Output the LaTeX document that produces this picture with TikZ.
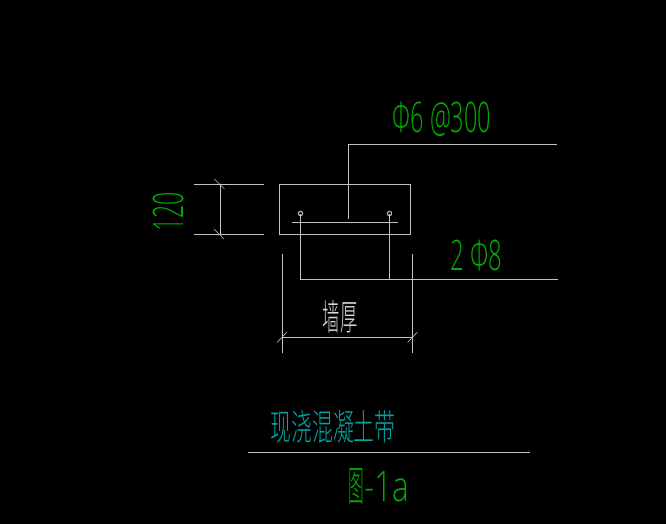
\documentclass[tikz,border=0pt]{standalone}
\usepackage{fontspec}
\setmainfont{Open Sans Light}
\newfontfamily\cjk{Noto Sans CJK SC Light}
\definecolor{cadgreen}{RGB}{0,175,0}
\definecolor{cadcyan}{RGB}{0,165,165}
\definecolor{cadline}{RGB}{195,195,195}
\tikzset{
	cadlabel/.style={inner sep=0pt, font=\fontsize{42}{42}\selectfont},
	cjklabel/.style={inner sep=0pt, font=\cjk\fontsize{36}{36}\selectfont},
	tick/.style={cadline, line width=0.6pt},
}
\begin{document}
\begin{tikzpicture}[x=1pt, y=-1pt, line width=1.1pt, cadline]
		\fill[black] (0, 0) rectangle (666, 524);
		\useasboundingbox (0, 0) rectangle (666, 524);

		% section outline and bars
		\draw (279.5, 184.5) rectangle (410.5, 234.5);
		\draw (292, 222.5) -- (398, 222.5);
		\draw (348.5, 219) -- (348.5, 144.5) -- (557, 144.5);
		\draw (300.5, 213.5) -- (300.5, 279.5) -- (558, 279.5);
		\draw (389.5, 213.5) -- (389.5, 279.5);
		\draw[line width=1pt] (300.5, 213.5) circle (2.2);
		\draw[line width=1pt] (389.5, 213.5) circle (2.2);

		% height dimension
		\draw (194, 184.5) -- (264, 184.5);
		\draw (194, 234.5) -- (264, 234.5);
		\draw (220.5, 184.5) -- (220.5, 234.5);
		\draw[tick] (214.5, 179) -- (224.5, 189);
		\draw[tick] (214, 229) -- (224, 239);

		% width dimension
		\draw (282.5, 254) -- (282.5, 353);
		\draw (412.5, 254) -- (412.5, 353);
		\draw (282.5, 337.5) -- (412.5, 337.5);
		\draw[tick] (277, 342.5) -- (287, 332);
		\draw[tick] (407.5, 342.5) -- (417.5, 332);

		\draw (248, 452.5) -- (530, 452.5);

		\draw (442, 119)	node[cadlabel, cadgreen, xscale=0.56] (stirrup) {Φ6 @300}
			(476.5, 255)	node[cadlabel, cadgreen, xscale=0.57] (bars) {2 Φ8}
			(168, 212)	node[cadlabel, cadgreen, rotate=90, xscale=0.55] (height) {120}
			(340, 317)	node[cjklabel, white!85!black, xscale=0.48] (wall) {墙厚}
			(333, 427)	node[cjklabel, cadcyan, xscale=0.58] (title) {现浇混凝土带}
			(379, 487)	node[cadlabel, cadgreen, xscale=0.75] (fignum) {{\cjk\scalebox{0.5}[1]{图}}-1a}
;
\end{tikzpicture}
\end{document}
